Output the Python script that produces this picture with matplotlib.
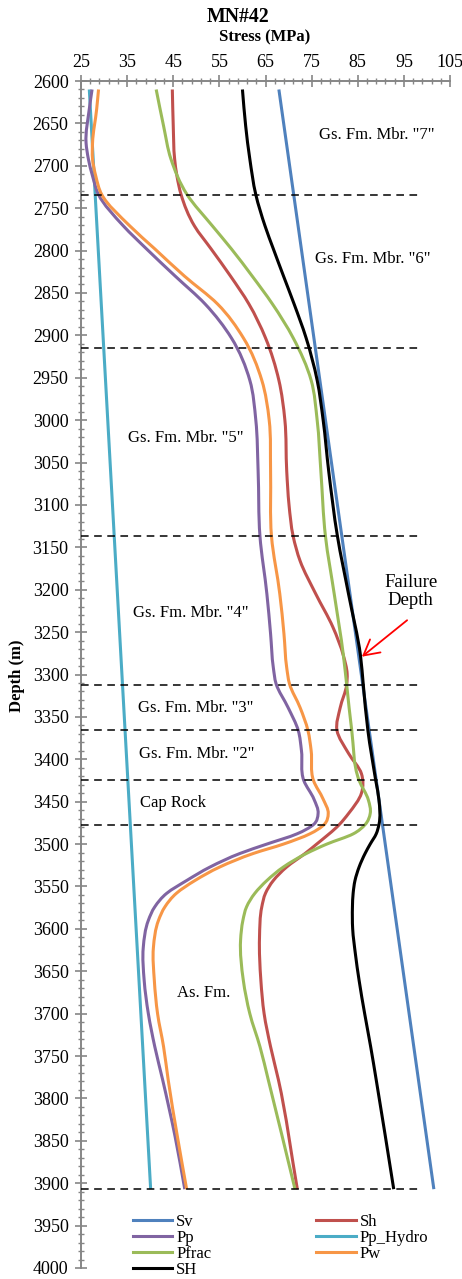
import numpy as np
import matplotlib
matplotlib.use("Agg")
import matplotlib.pyplot as plt
from matplotlib.path import Path
from matplotlib.patches import PathPatch
from matplotlib.lines import Line2D
from matplotlib.ticker import MultipleLocator, FixedLocator

plt.rcParams['font.family'] = ['Liberation Serif', 'DejaVu Serif']

# ---- stress profiles (MPa) versus depth (m) ----
sv_depth = [2610, 3907]
sv_val = [67.9, 101.5]

hydro_depth = [2610, 3907]
hydro_val = [26.8, 40.1]

sh_max_depth = [2610, 2653, 2692, 2734, 2771, 2798, 2830, 2863, 2903, 2953, 3000,
                3060, 3137, 3205, 3278, 3312, 3366, 3425, 3448, 3477, 3488, 3500,
                3511, 3527, 3543, 3558, 3574, 3600, 3630, 3661, 3700, 3739, 3778,
                3907]
sh_max_val = [60.0, 60.7, 61.6, 62.9, 64.9, 66.7, 68.9, 71.2, 73.8, 76.2, 77.5,
              78.7, 80.6, 83.0, 85.6, 86.2, 87.2, 88.9, 89.6, 89.6, 89.0, 87.7,
              86.6, 85.3, 84.4, 84.0, 83.85, 83.9, 84.5, 85.3, 86.5, 87.8, 89.0,
              92.8]

sh_min_depth = [2610, 2653, 2692, 2712, 2734, 2771, 2798, 2830, 2863, 2903, 2953,
                3000, 3060, 3100, 3137, 3166, 3205, 3244, 3278, 3299, 3312, 3339,
                3366, 3393, 3417, 3440, 3464, 3477, 3500, 3511, 3527, 3543, 3558,
                3574, 3610, 3661, 3700, 3739, 3778, 3907]
sh_min_val = [44.8, 45.0, 45.3, 45.8, 46.7, 49.6, 53.2, 57.4, 61.4, 65.0, 67.9,
              69.2, 69.6, 70.1, 71.0, 72.5, 75.9, 79.6, 81.9, 82.7, 82.6, 81.2,
              80.5, 83.0, 85.8, 85.8, 83.0, 81.0, 76.1, 73.6, 69.6, 66.7, 65.0,
              64.2, 63.7, 64.0, 64.7, 66.1, 67.8, 71.9]

pfrac_depth = [2610, 2653, 2692, 2734, 2771, 2798, 2830, 2863, 2903, 2953, 3000,
               3060, 3137, 3205, 3278, 3312, 3366, 3425, 3448, 3464, 3477, 3488,
               3500, 3511, 3527, 3543, 3558, 3574, 3590, 3613, 3661, 3700, 3739,
               3778, 3907]
pfrac_val = [41.3, 42.9, 44.5, 48.0, 53.5, 57.6, 62.1, 66.5, 71.0, 74.9, 76.2,
             77.0, 78.0, 79.9, 81.9, 82.6, 83.7, 85.3, 87.3, 87.7, 86.6, 84.0,
             78.3, 73.9, 68.9, 65.3, 62.7, 60.9, 60.1, 59.6, 60.2, 61.6, 63.8,
             65.6, 71.4]

pp_depth = [2610, 2633, 2673, 2692, 2712, 2734, 2771, 2798, 2830, 2863, 2903,
            2953, 3000, 3060, 3137, 3205, 3252, 3292, 3311, 3339, 3366, 3390,
            3425, 3447, 3464, 3477, 3488, 3500, 3511, 3527, 3543, 3558, 3574,
            3590, 3622, 3661, 3700, 3739, 3778, 3845, 3907]
pp_val = [27.4, 26.8, 26.1, 26.6, 27.5, 28.8, 34.2, 39.2, 45.4, 51.9, 57.6,
          61.6, 62.9, 63.4, 63.8, 65.3, 66.1, 66.7, 67.3, 69.9, 72.1, 72.8,
          73.3, 75.5, 76.4, 75.4, 71.8, 65.3, 59.5, 53.0, 47.9, 43.6, 41.0,
          39.6, 38.5, 38.7, 39.6, 41.0, 42.7, 45.4, 47.5]

pw_depth = [2610, 2633, 2673, 2692, 2712, 2734, 2771, 2798, 2830, 2863, 2903,
            2953, 3000, 3060, 3137, 3205, 3252, 3292, 3311, 3339, 3366, 3390,
            3425, 3447, 3464, 3477, 3488, 3500, 3511, 3527, 3543, 3558, 3574,
            3590, 3622, 3661, 3700, 3739, 3778, 3845, 3907]
pw_val = [28.8, 28.4, 27.5, 27.5, 28.2, 29.5, 35.6, 41.0, 47.4, 54.6, 60.2,
          64.2, 65.8, 66.1, 66.3, 68.1, 69.0, 69.6, 70.2, 72.5, 74.2, 74.9,
          75.4, 77.5, 78.6, 77.7, 74.6, 68.9, 62.4, 55.1, 49.7, 45.7, 43.2,
          41.8, 40.7, 40.9, 41.6, 42.9, 43.9, 45.9, 47.9]

# formation tops (m)
boundaries = [2734, 2915, 3137, 3312, 3366, 3425, 3477, 3907]

# formation labels and their positions (stress, depth)
zone_labels = ['Gs. Fm. Mbr. "7"', 'Gs. Fm. Mbr. "6"', 'Gs. Fm. Mbr. "5"',
               'Gs. Fm. Mbr. "4"', 'Gs. Fm. Mbr. "3"', 'Gs. Fm. Mbr. "2"',
               'Cap Rock', 'As. Fm.']
zone_x = [89.2, 88.3, 47.8, 48.8, 49.9, 50.1, 44.9, 51.7]
zone_y = [2664, 2810, 3021, 3227, 3339, 3394, 3451, 3676]

colors = {
    'Sv': '#4F81BD', 'Sh': '#C0504D', 'Pp': '#8064A2', 'Pp_Hydro': '#4BACC6',
    'Pfrac': '#9BBB59', 'Pw': '#F79646', 'SH': '#000000',
}


def smooth_path(xs, ys):
    """Smooth curve x(depth) through the points, as cubic Bezier segments."""
    x = np.asarray(xs, float)
    y = np.asarray(ys, float)
    h = np.diff(y)
    d = np.diff(x) / h
    m = np.empty_like(x)
    m[0], m[-1] = d[0], d[-1]
    if len(x) > 2:
        m[1:-1] = (h[1:] * d[:-1] + h[:-1] * d[1:]) / (h[:-1] + h[1:])
    verts = [(x[0], y[0])]
    codes = [Path.MOVETO]
    for i in range(len(x) - 1):
        verts += [(x[i] + m[i] * h[i] / 3, y[i] + h[i] / 3),
                  (x[i + 1] - m[i + 1] * h[i] / 3, y[i + 1] - h[i] / 3),
                  (x[i + 1], y[i + 1])]
        codes += [Path.CURVE4] * 3
    return Path(verts, codes)


fig = plt.figure(figsize=(4.62, 12.79), dpi=100)
W, H = 462.0, 1279.0
x0, x1, y0, y1 = 81, 450, 81, 1268
ax = fig.add_axes([x0 / W, 1 - y1 / H, (x1 - x0) / W, (y1 - y0) / H])

ax.set_xlim(25, 105)
ax.set_ylim(4000, 2600)

series = [
    ('Pp_Hydro', hydro_val, hydro_depth),
    ('Pp', pp_val, pp_depth),
    ('Pw', pw_val, pw_depth),
    ('Sh', sh_min_val, sh_min_depth),
    ('Pfrac', pfrac_val, pfrac_depth),
    ('Sv', sv_val, sv_depth),
    ('SH', sh_max_val, sh_max_depth),
]
lw = 2.2
for i, (name, vals, deps) in enumerate(series):
    patch = PathPatch(smooth_path(vals, deps), facecolor='none',
                      edgecolor=colors[name], lw=lw, capstyle='butt',
                      joinstyle='round', zorder=3 + i * 0.1)
    ax.add_patch(patch)

for b in boundaries:
    ax.plot([25, 98.2], [b, b], color='black', lw=1.1,
            linestyle=(0, (5, 3.6)), zorder=5)

for txt, tx, ty in zip(zone_labels, zone_x, zone_y):
    ax.text(tx, ty, txt, fontsize=12, ha='center', va='center', zorder=6)

ax.text(96.5, 3202, 'Failure\nDepth', fontsize=13.5, ha='center',
        va='center', linespacing=1.1, zorder=6)
ax.annotate('', xy=(85.9, 3279), xytext=(95.7, 3236),
            arrowprops=dict(arrowstyle='->,head_length=0.55,head_width=0.3',
                            color='red', lw=1.3, mutation_scale=20,
                            shrinkA=0, shrinkB=0), zorder=7)

# axes styling
for side in ('bottom', 'right'):
    ax.spines[side].set_visible(False)
for side in ('left', 'top'):
    ax.spines[side].set_color('#868686')
    ax.spines[side].set_linewidth(1.4)

ax.xaxis.tick_top()
ax.xaxis.set_major_locator(FixedLocator(np.arange(25, 106, 10)))
ax.xaxis.set_minor_locator(FixedLocator(np.arange(25, 106, 2)))
ax.yaxis.set_major_locator(MultipleLocator(50))
ax.yaxis.set_minor_locator(MultipleLocator(10))
ax.tick_params(which='major', direction='inout', length=8, width=1.2,
               color='#868686', labelsize=13)
ax.tick_params(which='minor', direction='inout', length=4.5, width=1.0,
               color='#868686')
ax.tick_params(axis='x', which='major', pad=3)
ax.tick_params(axis='y', which='major', pad=5)

fig.text(238 / W, 1 - 17 / H, 'MN#42', fontsize=14.3, fontweight='bold',
         ha='center', va='center')
fig.text(265 / W, 1 - 37 / H, 'Stress (MPa)', fontsize=12, fontweight='bold',
         ha='center', va='center')
fig.text(17 / W, 1 - 676 / H, 'Depth (m)', fontsize=12, fontweight='bold',
         ha='center', va='center', rotation=90)

legend_order = ['Sv', 'Pp', 'Pfrac', 'SH', 'Sh', 'Pp_Hydro', 'Pw']
handles = [Line2D([], [], color=colors[k], lw=lw) for k in legend_order]
fig.legend(handles, legend_order, loc='upper left',
           bbox_to_anchor=(133 / W, 1 - 1214 / H), ncol=2, frameon=False,
           fontsize=12, handlelength=2.35, handletextpad=0.25,
           columnspacing=6.3, labelspacing=0.0, borderpad=0,
           borderaxespad=0)

fig.savefig('out.png', dpi=100)
